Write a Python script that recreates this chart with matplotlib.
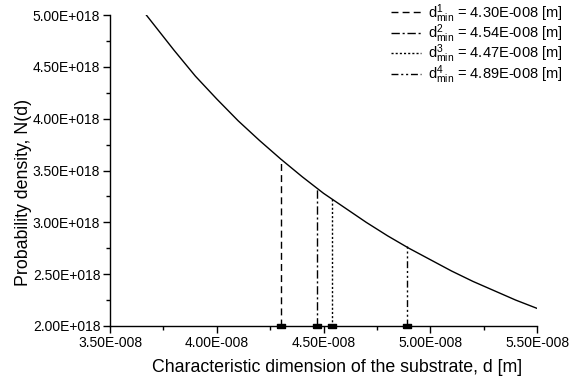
import numpy as np
import matplotlib
matplotlib.use("Agg")
import matplotlib.pyplot as plt
from matplotlib.ticker import FuncFormatter, MultipleLocator

plt.rcParams['font.family'] = ['Liberation Sans', 'DejaVu Sans']
plt.rcParams['mathtext.fontset'] = 'custom'
plt.rcParams['mathtext.rm'] = 'Liberation Sans'
plt.rcParams['mathtext.it'] = 'Liberation Sans'

# curve (d in m, N(d))
d_curve = [3.67e-8, 3.80e-8, 3.90e-8, 4.00e-8, 4.10e-8, 4.20e-8, 4.30e-8,
           4.40e-8, 4.50e-8, 4.60e-8, 4.70e-8, 4.80e-8, 4.90e-8, 5.00e-8,
           5.10e-8, 5.20e-8, 5.30e-8, 5.40e-8, 5.50e-8]
n_curve = [5.00e18, 4.66e18, 4.41e18, 4.19e18, 3.98e18, 3.79e18, 3.61e18,
           3.44e18, 3.28e18, 3.14e18, 3.00e18, 2.87e18, 2.75e18, 2.64e18,
           2.53e18, 2.43e18, 2.34e18, 2.25e18, 2.17e18]

# vertical markers: position on the axis and height where they meet the curve
d_lines = [4.30e-8, 4.47e-8, 4.54e-8, 4.89e-8]
n_lines = [3.61e18, 3.32e18, 3.24e18, 2.77e18]
# legend text as printed in the figure
legend_vals = ["4.30E-008", "4.54E-008", "4.47E-008", "4.89E-008"]

styles = [(0, (5, 3)), (0, (6, 2, 1.5, 2)), (0, (1.5, 1.5)),
          (0, (5, 2, 1.5, 2, 1.5, 2))]

# flat rectangle marker for the points on the axis
rect = [(-1, -0.55), (1, -0.55), (1, 0.55), (-1, 0.55), (-1, -0.55)]


def sci3(v, pos):
    if v == 0:
        return "0.00E+000"
    e = int(np.floor(np.log10(abs(v)) + 1e-9))
    m = v / 10.0 ** e
    sign = "+" if e >= 0 else "-"
    return "%.2fE%s%03d" % (m, sign, abs(e))


fig = plt.figure(figsize=(5.75, 3.82), dpi=100)
ax = fig.add_axes([0.1913, 0.1466, 0.934 - 0.1913, 0.9607 - 0.1466])

ax.plot(d_curve, n_curve, color="black", lw=1.0)

for i in range(len(d_lines)):
    lab = r"d$^{%d}_{\rm min}$ = %s [m]" % (i + 1, legend_vals[i])
    ax.plot([d_lines[i], d_lines[i]], [2.0e18, n_lines[i]], color="black",
            lw=1.0, linestyle=styles[i], label=lab)
ax.plot(d_lines, [2.0e18] * len(d_lines), linestyle="none", marker=rect,
        markersize=6, color="black", clip_on=False, zorder=5)

ax.set_xlim(3.5e-8, 5.5e-8)
ax.set_ylim(2.0e18, 5.0e18)
ax.xaxis.set_major_locator(MultipleLocator(0.5e-8))
ax.xaxis.set_minor_locator(MultipleLocator(0.25e-8))
ax.yaxis.set_major_locator(MultipleLocator(0.5e18))
ax.yaxis.set_minor_locator(MultipleLocator(0.25e18))
ax.xaxis.set_major_formatter(FuncFormatter(sci3))
ax.yaxis.set_major_formatter(FuncFormatter(sci3))
ax.tick_params(which="major", direction="out", length=5, width=1,
               labelsize=10, pad=2)
ax.tick_params(which="minor", direction="out", length=3, width=1)

for s in ["top", "right"]:
    ax.spines[s].set_visible(False)
for s in ["left", "bottom"]:
    ax.spines[s].set_linewidth(1.0)

ax.set_xlabel("Characteristic dimension of the substrate, d [m]", fontsize=12.8)
ax.set_ylabel("Probability density, N(d)", fontsize=12.8)
ax.xaxis.set_label_coords(0.532, -0.106)
ax.yaxis.set_label_coords(-0.182, 0.43)

leg = ax.legend(loc="upper right", bbox_to_anchor=(1.08, 1.07), frameon=False,
                fontsize=10.5, handlelength=2.0, handletextpad=0.5,
                labelspacing=-0.15, borderaxespad=0.2)

fig.savefig("out.png", dpi=100)
